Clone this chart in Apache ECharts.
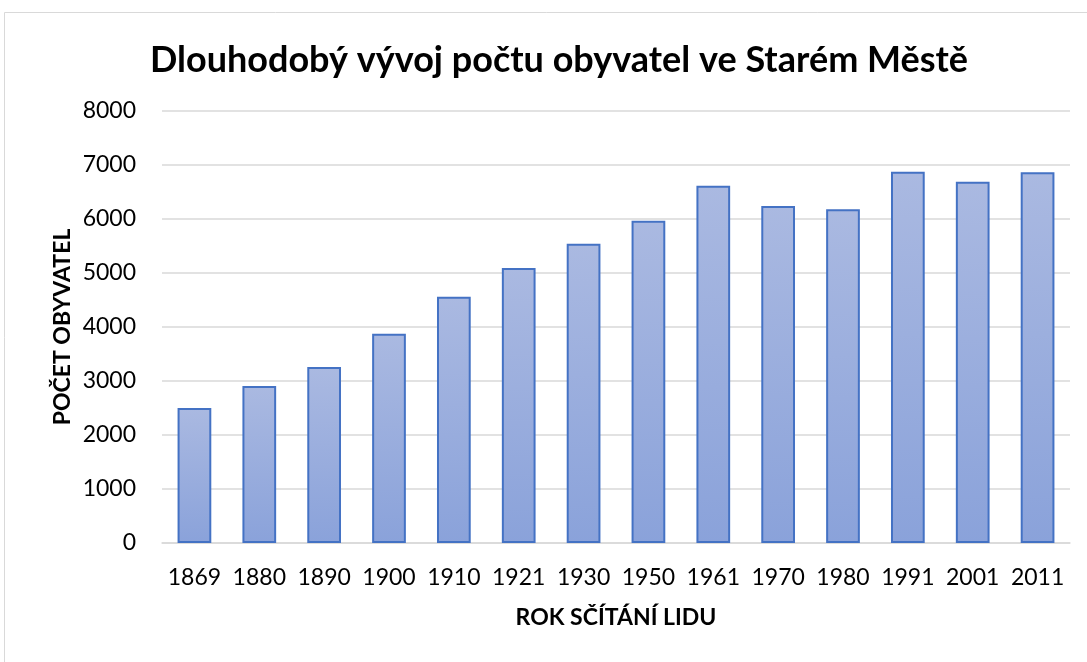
<!DOCTYPE html>
<html>
<head>
<meta charset="utf-8">
<script src="https://cdn.jsdelivr.net/npm/echarts@6/dist/echarts.min.js"></script>
<style>
  html, body { margin: 0; padding: 0; background: #fff; }
  #chart { width: 1087px; height: 662px; }
</style>
</head>
<body>
<div id="chart"></div>
<script>
const years = ['1869', '1880', '1890', '1900', '1910', '1921', '1930', '1950', '1961', '1970', '1980', '1991', '2001', '2011'];
const population = [2500, 2907, 3260, 3876, 4560, 5093, 5540, 5969, 6617, 6241, 6180, 6876, 6691, 6866];
const yTicks = [0, 1000, 2000, 3000, 4000, 5000, 6000, 7000, 8000];

const font = 'Lato, "Noto Sans", sans-serif';
const myChart = echarts.init(document.getElementById('chart'), null, { renderer: 'canvas' });

const option = {
  animation: false,
  backgroundColor: '#fff',
  title: {
    text: 'Dlouhodobý vývoj počtu obyvatel ve Starém Městě',
    left: 554,
    textAlign: 'center',
    top: 37,
    textStyle: { fontFamily: font, fontSize: 36, fontWeight: 'bold', color: '#000' }
  },
  graphic: [{
    type: 'rect',
    shape: { x: 4.5, y: 12.5, width: 1100, height: 660 },
    style: { fill: null, stroke: '#d9d9d9', lineWidth: 1 },
    silent: true
  }],
  grid: { left: 162, right: 17, top: 111, bottom: 119 },
  xAxis: {
    type: 'category',
    data: years,
    name: 'ROK SČÍTÁNÍ LIDU',
    nameLocation: 'middle',
    nameGap: 63,
    nameMoveOverlap: false,
    nameTextStyle: { fontFamily: font, fontSize: 23, fontWeight: 'bold', color: '#000' },
    axisLine: { lineStyle: { color: '#d9d9d9', width: 1.5 } },
    axisTick: { show: false },
    axisLabel: { interval: 0, fontFamily: font, fontSize: 23, color: '#000', margin: 23 }
  },
  yAxis: {
    type: 'value',
    min: yTicks[0],
    max: yTicks[yTicks.length - 1],
    interval: 1000,
    name: 'POČET OBYVATEL',
    nameLocation: 'middle',
    nameGap: 88,
    nameMoveOverlap: false,
    nameTextStyle: { fontFamily: font, fontSize: 23, fontWeight: 'bold', color: '#000' },
    axisLine: { show: false },
    axisTick: { show: false },
    splitLine: { lineStyle: { color: '#d9d9d9', width: 1.5 } },
    axisLabel: {
      fontFamily: font, fontSize: 23, color: '#000', margin: 26,
      formatter: function (v) { return String(v); }
    }
  },
  series: [{
    type: 'bar',
    data: population,
    barWidth: '52%',
    itemStyle: {
      color: new echarts.graphic.LinearGradient(0, 0, 0, 1, [
        { offset: 0, color: '#aab9e1' },
        { offset: 1, color: '#8aa2da' }
      ]),
      borderColor: '#4472c4',
      borderWidth: 2
    }
  }]
};

option && myChart.setOption(option);
</script>
</body>
</html>
